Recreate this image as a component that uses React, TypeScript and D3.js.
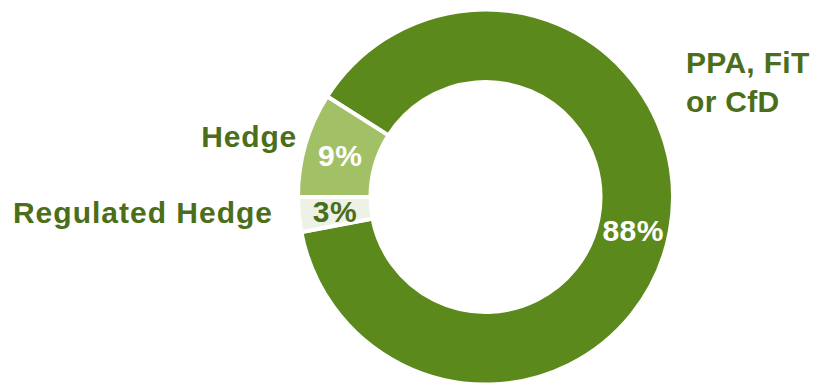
import React from "react";
import * as d3 from "d3";

const categories = ["PPA, FiT or CfD", "Regulated Hedge", "Hedge"];
const values = [88, 3, 9];
const colors = ["#5C891C", "#EEF1E6", "#A2C066"];
const valueColors = ["#FFFFFF", "#4B6E1B", "#FFFFFF"];

const W = 818, H = 385;
const cx = 485.5, cy = 197;
const outerR = 187.5, innerR = 115;
const startAngle = (-57.6 * Math.PI) / 180;

export default function App() {
  const pie = d3.pie<number>().sort(null).value((d) => d)
    .startAngle(startAngle).endAngle(startAngle + 2 * Math.PI);
  const arcs = pie(values);
  const arc = d3.arc<d3.PieArcDatum<number>>().innerRadius(innerR).outerRadius(outerR);
  const midR = (innerR + outerR) / 2;
  const font = "'Liberation Sans', Arial, sans-serif";
  const textColor = "#4B6E1B";

  const labelPos = (i: number) => {
    if (i === 0) {
      const a = (102.5 * Math.PI) / 180;
      return [midR * Math.sin(a), -midR * Math.cos(a)];
    }
    return arc.centroid(arcs[i]);
  };

  return (
    <svg width={W} height={H} style={{ position: "absolute", left: 0, top: 0 }}>
      <g transform={`translate(${cx},${cy})`}>
        {arcs.map((a, i) => (
          <path key={i} d={arc(a) || ""} fill={colors[i]} stroke="#fff" strokeWidth={4} />
        ))}
        {arcs.map((a, i) => {
          const [x, y] = labelPos(i);
          return (
            <text key={i} x={x} y={y} dy="0.36em" textAnchor="middle"
              fontFamily={font} fontWeight="bold" fontSize={30} letterSpacing={0.5} fill={valueColors[i]}>
              {values[i]}%
            </text>
          );
        })}
      </g>
      <text x={297} y={147} textAnchor="end" fontFamily={font} fontWeight="bold" fontSize={30} letterSpacing={0.8} fill={textColor}>
        {categories[2]}
      </text>
      <text x={273} y={223} textAnchor="end" fontFamily={font} fontWeight="bold" fontSize={30} letterSpacing={1} fill={textColor}>
        {categories[1]}
      </text>
      <text x={686} y={73} fontFamily={font} fontWeight="bold" fontSize={30} letterSpacing={0.3} fill={textColor}>
        <tspan x={686}>PPA, FiT</tspan>
        <tspan x={686} y={111.5}>or CfD</tspan>
      </text>
    </svg>
  );
}
